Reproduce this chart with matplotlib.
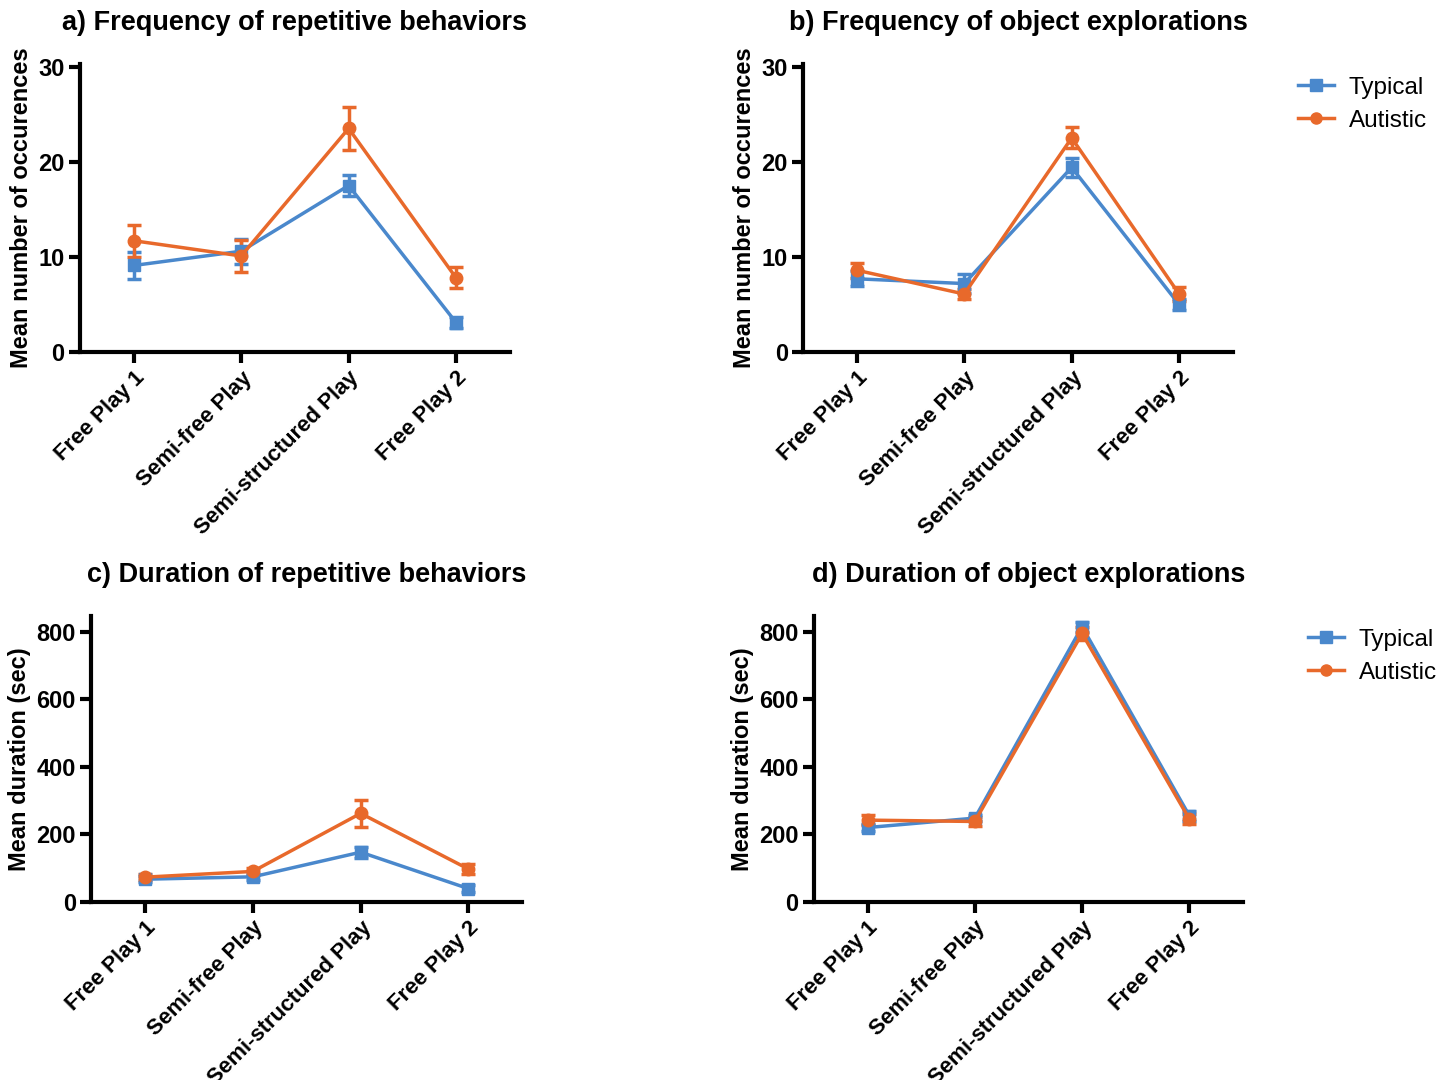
import matplotlib
matplotlib.use("Agg")
import matplotlib.pyplot as plt
from matplotlib.lines import Line2D

plt.rcParams['font.family'] = ['Liberation Sans', 'DejaVu Sans']

# data
conditions = ["Free Play 1", "Semi-free Play", "Semi-structured Play", "Free Play 2"]

# a) frequency of repetitive behaviors
rep_freq_typ = [9.1, 10.6, 17.5, 3.1]
rep_freq_typ_err = [1.4, 1.3, 1.1, 0.6]
rep_freq_aut = [11.7, 10.1, 23.5, 7.8]
rep_freq_aut_err = [1.7, 1.7, 2.3, 1.1]

# b) frequency of object explorations
obj_freq_typ = [7.7, 7.2, 19.4, 5.0]
obj_freq_typ_err = [0.8, 1.0, 1.0, 0.6]
obj_freq_aut = [8.6, 6.1, 22.5, 6.1]
obj_freq_aut_err = [0.8, 0.5, 1.1, 0.7]

# c) duration of repetitive behaviors
rep_dur_typ = [67, 74, 147, 39]
rep_dur_typ_err = [8, 8, 16, 10]
rep_dur_aut = [73, 90, 262, 97]
rep_dur_aut_err = [8, 10, 40, 15]

# d) duration of object explorations
obj_dur_typ = [220, 248, 815, 255]
obj_dur_typ_err = [10, 10, 15, 15]
obj_dur_aut = [242, 238, 795, 245]
obj_dur_aut_err = [15, 12, 18, 15]

blue = '#4a88cc'
orange = '#e8692b'

fig = plt.figure(figsize=(14.47, 10.8), dpi=100)


def make_panel(rect, title, ylabel, typ, typ_err, aut, aut_err, yticks, ytop, legend=False):
    ax = fig.add_axes(rect)
    x = range(len(conditions))
    ax.errorbar(x, typ, yerr=typ_err, color=blue, marker='s', markersize=9,
                linewidth=2.5, elinewidth=2.5, capsize=5, capthick=2.5)
    ax.errorbar(x, aut, yerr=aut_err, color=orange, marker='o', markersize=9,
                linewidth=2.5, elinewidth=2.5, capsize=5, capthick=2.5)
    ax.set_xlim(-0.5, 3.5)
    ax.set_ylim(0, ytop)
    ax.set_yticks(yticks)
    ax.set_xticks(list(x))
    ax.set_xticklabels(conditions, rotation=45, ha='right', rotation_mode='anchor',
                       fontsize=16, fontweight='bold')
    for lab in ax.get_yticklabels():
        lab.set_fontweight('bold')
        lab.set_fontsize(17)
    ax.spines['top'].set_visible(False)
    ax.spines['right'].set_visible(False)
    ax.spines['left'].set_linewidth(3)
    ax.spines['bottom'].set_linewidth(3)
    ax.tick_params(axis='both', length=8, width=3, pad=3)
    ax.set_ylabel(ylabel, fontsize=17, fontweight='bold', labelpad=4)
    ax.set_title(title, fontsize=19.5, fontweight='bold', pad=24)
    if legend:
        handles = [Line2D([], [], color=blue, marker='s', markersize=8, linewidth=2.5),
                   Line2D([], [], color=orange, marker='o', markersize=8, linewidth=2.5)]
        ax.legend(handles, ['Typical', 'Autistic'], loc='upper left',
                  bbox_to_anchor=(1.1, 1.03), frameon=False,
                  fontsize=17.5, handlelength=1.5, handletextpad=0.6, labelspacing=0.45)
    return ax


make_panel([0.0553, 0.674, 0.297, 0.267], "a) Frequency of repetitive behaviors",
           "Mean number of occurences", rep_freq_typ, rep_freq_typ_err,
           rep_freq_aut, rep_freq_aut_err, [0, 10, 20, 30], 30.3)
make_panel([0.555, 0.674, 0.297, 0.267], "b) Frequency of object explorations",
           "Mean number of occurences", obj_freq_typ, obj_freq_typ_err,
           obj_freq_aut, obj_freq_aut_err, [0, 10, 20, 30], 30.3, legend=True)
make_panel([0.063, 0.165, 0.298, 0.265], "c) Duration of repetitive behaviors",
           "Mean duration (sec)", rep_dur_typ, rep_dur_typ_err,
           rep_dur_aut, rep_dur_aut_err, [0, 200, 400, 600, 800], 848)
make_panel([0.5625, 0.165, 0.2965, 0.265], "d) Duration of object explorations",
           "Mean duration (sec)", obj_dur_typ, obj_dur_typ_err,
           obj_dur_aut, obj_dur_aut_err, [0, 200, 400, 600, 800], 848, legend=True)

fig.savefig("out.png", dpi=100)
